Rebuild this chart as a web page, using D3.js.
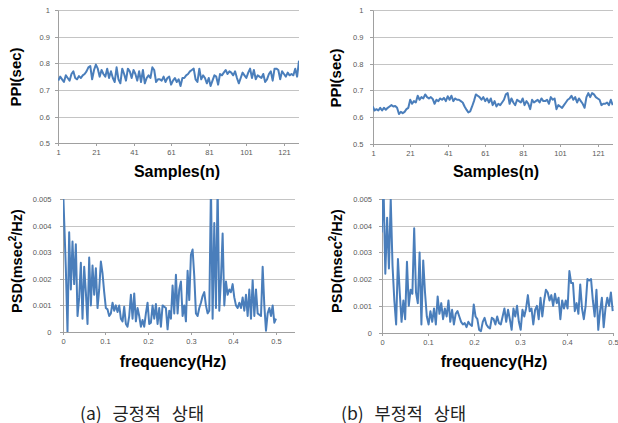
<!DOCTYPE html>
<html><head><meta charset="utf-8">
<script src="https://cdn.jsdelivr.net/npm/d3@7"></script>
<style>body{margin:0;background:#fff}svg{display:block}</style>
</head><body>
<svg id="c" width="618" height="423"></svg>
<script>
// ---------- data ----------
const sampleTicks = [1, 21, 41, 61, 81, 101, 121];
const ppiTicks = [0.5, 0.6, 0.7, 0.8, 0.9, 1];
const psdTicks = [0, 0.001, 0.002, 0.003, 0.004, 0.005];
const freqTicks = [0, 0.1, 0.2, 0.3, 0.4, 0.5];
const FREQ_MAX = 0.5;               // Nyquist of the spectrum
const captions = ["(a) 긍정적 상태", "(b) 부정적 상태"];

const ppiPositive = [
0.735,0.750,0.740,0.730,0.755,0.745,0.735,0.760,0.770,0.745,
0.740,0.752,0.745,0.755,0.760,0.770,0.785,0.790,0.740,0.775,
0.795,0.780,0.750,0.775,0.760,0.750,0.780,0.745,0.770,0.745,
0.730,0.785,0.740,0.725,0.780,0.760,0.735,0.780,0.770,0.745,
0.775,0.760,0.735,0.770,0.730,0.775,0.725,0.745,0.755,0.745,
0.785,0.775,0.730,0.740,0.740,0.735,0.750,0.730,0.745,0.750,
0.720,0.735,0.745,0.730,0.740,0.715,0.745,0.745,0.755,0.760,
0.770,0.775,0.780,0.740,0.730,0.780,0.740,0.755,0.745,0.725,
0.745,0.715,0.735,0.755,0.750,0.720,0.760,0.755,0.765,0.775,
0.760,0.770,0.765,0.755,0.770,0.745,0.725,0.745,0.765,0.755,
0.745,0.765,0.780,0.745,0.775,0.740,0.755,0.750,0.745,0.760,
0.730,0.740,0.760,0.770,0.735,0.780,0.780,0.775,0.740,0.770,
0.760,0.750,0.765,0.755,0.760,0.755,0.780,0.750,0.810];

const ppiNegative = [
0.640,0.625,0.630,0.625,0.635,0.625,0.635,0.628,0.635,0.640,
0.645,0.640,0.642,0.635,0.612,0.620,0.615,0.620,0.630,0.635,
0.665,0.650,0.660,0.655,0.680,0.665,0.675,0.670,0.685,0.675,
0.670,0.675,0.668,0.650,0.665,0.660,0.670,0.665,0.672,0.660,
0.678,0.665,0.680,0.660,0.670,0.665,0.665,0.660,0.655,0.640,
0.628,0.618,0.622,0.640,0.660,0.685,0.680,0.675,0.665,0.675,
0.660,0.670,0.655,0.670,0.645,0.660,0.640,0.650,0.645,0.655,
0.665,0.685,0.690,0.650,0.670,0.655,0.645,0.665,0.660,0.655,
0.670,0.645,0.660,0.650,0.630,0.665,0.655,0.660,0.665,0.655,
0.670,0.660,0.660,0.665,0.650,0.675,0.665,0.670,0.630,0.645,
0.640,0.635,0.645,0.655,0.665,0.670,0.680,0.665,0.675,0.655,
0.670,0.660,0.650,0.635,0.675,0.690,0.675,0.690,0.685,0.675,
0.670,0.665,0.645,0.650,0.650,0.655,0.645,0.665,0.645];

const psdPositive = [
0.0060,0.0042,0.0024,0.0000,0.00375,0.0016,0.0034,0.0018,0.0033,0.0006,
0.0013,0.0026,0.0005,0.00245,0.0015,0.0003,0.0028,0.0010,0.0025,0.0014,
0.0024,0.0009,0.0016,0.00265,0.0022,0.0015,0.0009,0.00085,0.0006,0.0007,
0.0011,0.0008,0.0010,0.00075,0.0010,0.0005,0.0004,0.00095,0.0003,0.0002,
0.0006,0.0014,0.0005,0.00145,0.0004,0.0009,0.0006,0.0002,0.00045,0.0002,
0.0007,0.0011,0.0003,0.00035,0.0010,0.0005,0.00105,0.0003,0.0009,0.0002,
0.0010,0.00095,0.0009,0.0001,0.0008,0.0005,0.00175,0.0007,0.00215,0.0007,
0.0016,0.0019,0.0006,0.0010,0.0004,0.0023,0.0012,0.0029,0.0031,0.0021,
0.0007,0.0006,0.0009,0.0011,0.00135,0.0015,0.0010,0.0007,0.0008,0.0055,
0.0005,0.0041,0.0009,0.0055,0.0008,0.0020,0.0037,0.0010,0.0019,0.0014,
0.0016,0.0015,0.0018,0.0013,0.0010,0.0009,0.0011,0.0009,0.0013,0.0008,
0.0014,0.0006,0.0016,0.0005,0.00195,0.0006,0.0016,0.0007,0.00065,0.0006,
0.00245,0.0010,0.00005,0.0007,0.0009,0.0006,0.0010,0.00035,0.0005];

const psdNegative = [
0.00375,0.0055,0.0022,0.0043,0.0024,0.0050,0.0025,0.0012,0.0003,0.00275,
0.0015,0.0004,0.0012,0.0005,0.00265,0.0010,0.0016,0.00145,0.0039,0.0015,
0.0011,0.0030,0.0003,0.0027,0.0015,0.0006,0.0003,0.0008,0.0004,0.0009,
0.0003,0.00135,0.0007,0.0011,0.0005,0.0009,0.0006,0.0012,0.0004,0.00085,
0.0003,0.0007,0.0008,0.0006,0.0004,0.0003,0.00035,0.0002,0.0004,0.0003,
0.00025,0.00105,0.0006,0.0005,0.0001,0.00005,0.0004,0.00055,0.0003,0.0002,
0.00015,0.00055,0.0005,0.0003,0.0006,0.00035,0.0003,0.0006,0.0009,0.0004,
0.00085,0.0005,0.0001,0.0009,0.0006,0.0010,0.0004,0.0001,0.00085,0.0006,
0.0009,0.0014,0.0008,0.0009,0.0003,0.00085,0.0010,0.0005,0.0013,0.0006,
0.0012,0.0016,0.0015,0.0012,0.0014,0.0010,0.00145,0.0011,0.0013,0.0005,
0.0012,0.0009,0.0012,0.0009,0.0023,0.00185,0.00185,0.0008,0.0011,0.0007,
0.0018,0.0009,0.0005,0.0010,0.0020,0.00195,0.0020,0.0012,0.0006,0.0016,
0.0001,0.0008,0.0013,0.0002,0.0009,0.0013,0.0010,0.0015,0.0008];

// ---------- drawing ----------
const svg = d3.select("#c");
const LINE = "#4a7ebb";
const TICKFONT = "'Liberation Sans', Arial, sans-serif";

function ppiPoints(arr) { return arr.map((v, i) => ({x: i + 1, y: v})); }
function psdPoints(arr) { return arr.map((v, i) => ({x: i * FREQ_MAX / (arr.length - 1), y: v})); }

function panel(cfg, idx) {
  const g = svg.append("g");
  const x = d3.scaleLinear().domain(cfg.xDomain).range(cfg.xRange);
  const y = d3.scaleLinear().domain(cfg.yDomain).range(cfg.yRange);
  const xr = x.copy().interpolate(d3.interpolateRound);
  const yr = y.copy().interpolate(d3.interpolateRound);
  const left = Math.round(cfg.xRange[0]), right = cfg.right;
  const bottom = Math.round(cfg.yRange[0]), top = Math.round(cfg.yRange[1]);

  // gridlines
  g.selectAll("line.grid").data(cfg.yTicks.slice(1)).join("line")
    .attr("class", "grid")
    .attr("x1", left).attr("x2", right)
    .attr("y1", d => yr(d) + 0.5).attr("y2", d => yr(d) + 0.5)
    .attr("stroke", "#c4c4c4").attr("stroke-width", 1);

  // y axis
  const ya = d3.axisLeft(yr).tickValues(cfg.yTicks).tickSize(3).tickSizeOuter(0)
    .tickPadding(cfg.yPad).tickFormat(d => String(d));
  const yg = g.append("g").attr("transform", `translate(${left},0)`).call(ya);
  yg.select(".domain").attr("stroke", "#a0a0a0");
  yg.selectAll(".tick line").attr("stroke", "#a0a0a0");
  yg.selectAll(".tick text").attr("font-size", "7.5px").attr("font-family", TICKFONT).attr("fill", "#595959");

  // x axis
  const xa = d3.axisBottom(xr).tickValues(cfg.xTicks).tickSize(3).tickSizeOuter(0)
    .tickPadding(4).tickFormat(d => String(d));
  const xg = g.append("g").attr("transform", `translate(0,${bottom})`).call(xa);
  xg.select(".domain").remove();
  xg.selectAll(".tick line").attr("stroke", "#a0a0a0");
  xg.selectAll(".tick text").attr("font-size", "7.5px").attr("font-family", TICKFONT).attr("fill", "#595959");
  g.append("line").attr("x1", left).attr("x2", right)
    .attr("y1", bottom + 0.5).attr("y2", bottom + 0.5).attr("stroke", "#a0a0a0");

  // clipped line
  const cid = "clip" + idx;
  svg.append("clipPath").attr("id", cid).append("rect")
    .attr("x", left).attr("y", top).attr("width", right - left).attr("height", bottom - top);
  const line = d3.line().x(d => x(d.x)).y(d => y(d.y));
  g.append("path").datum(cfg.points).attr("clip-path", `url(#${cid})`)
    .attr("d", line).attr("fill", "none").attr("stroke", LINE)
    .attr("stroke-width", 2).attr("stroke-linejoin", "round");

  // titles
  const yt = g.append("text")
    .attr("transform", `translate(${cfg.yTitle[0]},${cfg.yTitle[1]}) rotate(-90)`)
    .attr("text-anchor", "middle").attr("dominant-baseline", "central")
    .attr("font-family", TICKFONT).attr("font-weight", "bold")
    .attr("font-size", cfg.yTitleSize + "px").attr("fill", "#000");
  if (cfg.psd) {
    yt.append("tspan").text("PSD(msec");
    yt.append("tspan").attr("dy", -5).attr("font-size", "10px").text("2");
    yt.append("tspan").attr("dy", 5).text("/Hz)");
  } else {
    yt.text(cfg.yLabel);
  }
  g.append("text").attr("x", cfg.xTitle[0]).attr("y", cfg.xTitle[1])
    .attr("text-anchor", "middle")
    .attr("font-family", TICKFONT).attr("font-weight", "bold")
    .attr("font-size", "16px").attr("fill", "#000").text(cfg.xLabel);
}

const panels = [
  {points: ppiPoints(ppiPositive), xDomain: [1, ppiPositive.length], xRange: [58.3, 299], right: 299,
   yDomain: [0.5, 1], yRange: [143.3, 10], yTicks: ppiTicks, xTicks: sampleTicks, yPad: 5,
   yLabel: "PPI(sec)", yTitle: [15.5, 77], yTitleSize: 15, xLabel: "Samples(n)", xTitle: [177, 177]},
  {points: ppiPoints(ppiNegative), xDomain: [1, ppiNegative.length], xRange: [372.7, 612.7], right: 613,
   yDomain: [0.5, 1], yRange: [144, 10], yTicks: ppiTicks, xTicks: sampleTicks, yPad: 6.5,
   yLabel: "PPI(sec)", yTitle: [335, 78], yTitleSize: 15, xLabel: "Samples(n)", xTitle: [496, 177]},
  {points: psdPoints(psdPositive), xDomain: [0, 0.5], xRange: [62.5, 276], right: 295, psd: true,
   yDomain: [0, 0.005], yRange: [332, 199], yTicks: psdTicks, xTicks: freqTicks, yPad: 8.5,
   yTitle: [17, 261], yTitleSize: 14.5, xLabel: "frequency(Hz)", xTitle: [173, 367]},
  {points: psdPoints(psdNegative), xDomain: [0, 0.5], xRange: [381.7, 612.7], right: 614, psd: true,
   yDomain: [0, 0.005], yRange: [332.5, 199], yTicks: psdTicks, xTicks: freqTicks, yPad: 7,
   yTitle: [337, 261], yTitleSize: 14.5, xLabel: "frequency(Hz)", xTitle: [494, 367]}
];
panels.forEach(panel);

svg.selectAll("text.caption").data(captions).join("text")
  .attr("class", "caption")
  .attr("x", (d, i) => [142, 403.5][i]).attr("y", 419.5)
  .attr("text-anchor", "middle")
  .attr("font-family", "'Noto Sans CJK KR', sans-serif")
  .attr("font-size", "17.5px").attr("word-spacing", "7px").attr("fill", "#222")
  .text(d => d);
</script>
</body></html>
